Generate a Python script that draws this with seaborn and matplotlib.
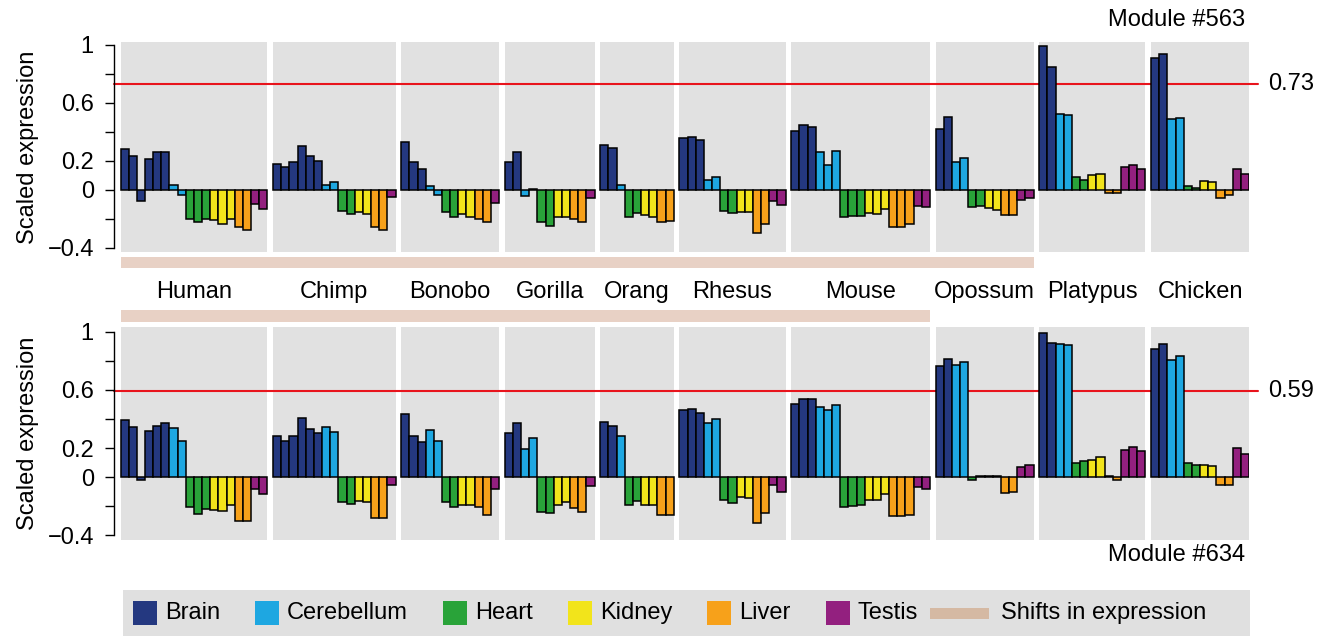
import matplotlib
matplotlib.use("Agg")
import matplotlib.pyplot as plt
from matplotlib.patches import Rectangle
from matplotlib.transforms import blended_transform_factory
import pandas as pd
import seaborn as sns


# Species, tissues and sample counts
species = ["Human", "Chimp", "Bonobo", "Gorilla", "Orang",
           "Rhesus", "Mouse", "Opossum", "Platypus", "Chicken"]
tissues = ["Brain", "Cerebellum", "Heart", "Kidney", "Liver", "Testis"]
tissue_colors = ["#243880", "#1ea7e1", "#29a339", "#f2e41b", "#f7a11a", "#93207f"]

# samples per tissue (same order as tissues) for each species
sample_counts = [
    [6, 2, 3, 3, 2, 2],
    [6, 2, 2, 2, 2, 1],
    [3, 2, 2, 2, 2, 1],
    [2, 2, 2, 2, 2, 1],
    [2, 1, 2, 2, 2, 0],
    [3, 2, 2, 2, 2, 2],
    [3, 3, 3, 3, 3, 2],
    [2, 2, 2, 2, 2, 2],
    [2, 2, 2, 2, 2, 3],
    [2, 2, 2, 2, 2, 2],
]

# Module #563 scaled expression, one list per species
module_563 = [
    [0.28, 0.23, -0.08, 0.21, 0.26, 0.26, 0.03, -0.035, -0.20, -0.225, -0.20,
     -0.21, -0.235, -0.20, -0.26, -0.28, -0.10, -0.13],
    [0.18, 0.16, 0.19, 0.30, 0.23, 0.20, 0.035, 0.05, -0.15, -0.17,
     -0.155, -0.17, -0.255, -0.275, -0.05],
    [0.33, 0.19, 0.145, 0.025, -0.035, -0.155, -0.185, -0.165, -0.185, -0.20, -0.225, -0.09],
    [0.19, 0.26, -0.04, 0.003, -0.225, -0.25, -0.19, -0.185, -0.20, -0.225, -0.06],
    [0.31, 0.29, 0.03, -0.185, -0.16, -0.175, -0.19, -0.225, -0.215],
    [0.355, 0.365, 0.34, 0.07, 0.09, -0.15, -0.16, -0.155, -0.155, -0.30, -0.235, -0.08, -0.105],
    [0.405, 0.445, 0.435, 0.26, 0.17, 0.265, -0.185, -0.18, -0.18, -0.16, -0.17, -0.13,
     -0.255, -0.255, -0.24, -0.115, -0.12],
    [0.42, 0.50, 0.19, 0.22, -0.12, -0.11, -0.125, -0.14, -0.175, -0.175, -0.07, -0.055],
    [0.99, 0.85, 0.525, 0.515, 0.085, 0.07, 0.10, 0.11, -0.025, -0.025, 0.16, 0.17, 0.145],
    [0.91, 0.94, 0.49, 0.495, 0.025, 0.015, 0.06, 0.05, -0.055, -0.035, 0.145, 0.11],
]

# Module #634 scaled expression
module_634 = [
    [0.395, 0.345, -0.02, 0.315, 0.355, 0.37, 0.335, 0.245, -0.21, -0.255, -0.22,
     -0.225, -0.235, -0.195, -0.30, -0.305, -0.085, -0.115],
    [0.285, 0.25, 0.285, 0.405, 0.33, 0.30, 0.345, 0.31, -0.17, -0.185,
     -0.165, -0.175, -0.285, -0.285, -0.055],
    [0.435, 0.28, 0.24, 0.325, 0.25, -0.175, -0.205, -0.19, -0.19, -0.21, -0.265, -0.085],
    [0.30, 0.37, 0.19, 0.27, -0.24, -0.245, -0.19, -0.17, -0.215, -0.24, -0.06],
    [0.38, 0.355, 0.285, -0.19, -0.165, -0.19, -0.19, -0.26, -0.26],
    [0.465, 0.47, 0.44, 0.37, 0.40, -0.16, -0.18, -0.14, -0.145, -0.32, -0.25, -0.055, -0.10],
    [0.50, 0.54, 0.54, 0.485, 0.465, 0.495, -0.205, -0.20, -0.19, -0.155, -0.16, -0.12,
     -0.27, -0.27, -0.26, -0.07, -0.08],
    [0.765, 0.815, 0.775, 0.79, -0.02, 0.01, 0.01, 0.01, -0.11, -0.105, 0.07, 0.08],
    [0.995, 0.925, 0.915, 0.91, 0.10, 0.11, 0.115, 0.135, 0.005, -0.02, 0.185, 0.205, 0.18],
    [0.885, 0.915, 0.805, 0.835, 0.10, 0.08, 0.085, 0.075, -0.055, -0.055, 0.20, 0.16],
]

thresholds = [0.73, 0.59]
module_names = ["Module #563", "Module #634"]
# shifts in expression run from Human up to this species
shift_last = ["Opossum", "Mouse"]

yticks = [-0.4, -0.2, 0, 0.2, 0.4, 0.6, 0.8, 1]
ytick_labels = ["\u22120.4", "", "0", "0.2", "", "0.6", "", "1"]

panel_grey = "#e1e1e1"
shift_color = "#e8d1c5"
shift_legend_color = "#d5b9a3"
line_red = "#e8141c"
FS = 17

W, H = 1329, 638


def build_layout(gap=0.7):
    rows, starts, ends = [], [], []
    x = 0.0
    for sp, counts in zip(species, sample_counts):
        starts.append(x)
        for t, n in zip(tissues, counts):
            for _ in range(n):
                rows.append((sp, t, round(x, 3)))
                x += 1
        ends.append(round(x - 1, 3))
        x += gap
    return pd.DataFrame(rows, columns=["species", "tissue", "pos"]), starts, ends


def draw_module(ax, values, threshold, layout, starts, ends, ylim):
    df = layout.copy()
    df["value"] = [v for sp_vals in values for v in sp_vals]

    for s, e in zip(starts, ends):
        ax.axvspan(s - 0.5, e + 0.5, color=panel_grey, lw=0, zorder=0)

    ax.axhline(threshold, xmin=0, xmax=1 + 9 / 1135, color=line_red, lw=1.5,
               clip_on=False, zorder=0.5)

    sns.barplot(data=df, x="pos", y="value", hue="tissue", hue_order=tissues,
                palette=dict(zip(tissues, tissue_colors)), native_scale=True,
                dodge=False, width=1, errorbar=None, edgecolor="black",
                linewidth=1.1, saturation=1, legend=False, ax=ax)

    ax.set_xlim(-1.3, ends[-1] + 0.5)
    ax.set_ylim(*ylim)
    ax.set_facecolor("white")
    for side in ["top", "right", "bottom"]:
        ax.spines[side].set_visible(False)
    ax.spines["left"].set_bounds(-0.4, 1)
    ax.spines["left"].set_linewidth(1)
    ax.spines["left"].set_color("black")
    ax.set_xticks([])
    ax.set_xlabel("")
    ax.set_yticks(yticks)
    ax.set_yticklabels(ytick_labels)
    ax.tick_params(axis="y", length=6.5, width=1, pad=8, labelsize=FS, left=True,
                   color="black", labelcolor="black")
    ax.set_ylabel("Scaled expression", fontsize=FS, labelpad=6, color="black")

    trans = blended_transform_factory(ax.transAxes, ax.transData)
    ax.text(1 + 19 / 1135, threshold, f"{threshold:.2f}", transform=trans,
            ha="left", va="center", fontsize=FS)


if __name__ == "__main__":
    sns.set_style("white")
    plt.rcParams["font.family"] = ["Liberation Sans", "DejaVu Sans"]
    plt.rcParams["text.color"] = "black"

    layout, starts, ends = build_layout()

    fig = plt.figure(figsize=(W / 100, H / 100), dpi=100)
    ax_top = fig.add_axes([114 / W, 1 - 252 / H, 1135 / W, 210 / H])
    ax_bot = fig.add_axes([114 / W, 1 - 540 / H, 1135 / W, 213 / H])

    draw_module(ax_top, module_563, thresholds[0], layout, starts, ends, (-0.43, 1.02))
    draw_module(ax_bot, module_634, thresholds[1], layout, starts, ends, (-0.434, 1.034))

    # module names
    fig.text(1245 / W, 1 - 20 / H, module_names[0], ha="right", va="center", fontsize=FS)
    fig.text(1245 / W, 1 - 555 / H, module_names[1], ha="right", va="center", fontsize=FS)

    # species names between the two modules
    tr = blended_transform_factory(ax_top.transData, fig.transFigure)
    for sp, s, e in zip(species, starts, ends):
        ax_top.text((s + e) / 2, 1 - 292 / H, sp, transform=tr,
                    ha="center", va="center", fontsize=FS)

    # shifts in expression bars
    for ax, last, (ytop, ybot) in zip([ax_top, ax_bot], shift_last, [(257, 268), (310, 322)]):
        idx = species.index(last)
        tr = blended_transform_factory(ax.transData, fig.transFigure)
        fig.add_artist(Rectangle((starts[0] - 0.5, 1 - ybot / H),
                                 ends[idx] + 0.5 - (starts[0] - 0.5), (ybot - ytop) / H,
                                 transform=tr, facecolor=shift_color, edgecolor="none"))

    # legend box
    lax = fig.add_axes([123 / W, 2 / H, 1127 / W, 46 / H])
    lax.set_xlim(0, 1127)
    lax.set_ylim(0, 46)
    lax.set_facecolor("#e0e0e0")
    lax.set_xticks([])
    lax.set_yticks([])
    for sp in lax.spines.values():
        sp.set_visible(False)

    renderer = fig.canvas.get_renderer()
    entries = [(t, c, 24, 24, 35) for t, c in zip(tissues, tissue_colors)]
    entries.append(("Shifts in expression", shift_legend_color, 59, 11, 12))
    x = 10
    for i, (label, color, pw, ph, gap_before) in enumerate(entries):
        if i > 0:
            x += gap_before
        lax.add_patch(Rectangle((x, 23 - ph / 2), pw, ph, facecolor=color, edgecolor="none"))
        pad = 8 if pw < 30 else 12
        txt = lax.text(x + pw + pad, 23, label, ha="left", va="center", fontsize=FS)
        x = x + pw + pad + txt.get_window_extent(renderer).width

    fig.savefig("out.png", dpi=100)
